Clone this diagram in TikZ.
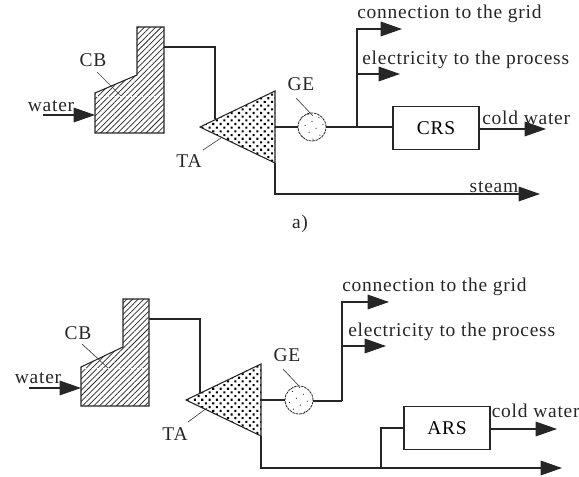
\documentclass[tikz,border=0pt]{standalone}
\usepackage{fontspec}
\setmainfont[LetterSpace=4]{Liberation Serif}
\usetikzlibrary{arrows.meta,patterns.meta}
\tikzset{
  pipe/.style={draw=black!85,line width=0.8pt},
  flow/.style={pipe,-{Triangle[length=16pt,width=11pt]}},
  leader/.style={draw=black!75,line width=0.5pt},
  hatched/.style={pipe,pattern={Lines[angle=45,distance=3pt,line width=0.55pt]},pattern color=black!85},
  dotted fill/.style={pipe,pattern={Dots[angle=45,distance=3.9pt,radius=1.1pt]}},
  unitbox/.style={draw=black!85,line width=0.8pt,minimum width=64.5pt,minimum height=32pt,inner sep=0pt,font=\fontsize{14.6}{15}\selectfont},
  genset/.style={draw=black!85,line width=0.6pt,dash pattern=on 2pt off 0.6pt,circle,minimum size=21pt,inner sep=0pt,pattern={Dots[angle=30,distance=6pt,radius=0.45pt]}},
  lab/.style={inner sep=0pt,text=black!85,font=\fontsize{14.6}{15}\selectfont},
  lablong/.style={lab,anchor=west}
}
\begin{document}
\begin{tikzpicture}[x=0.75pt,y=-0.75pt]
\useasboundingbox (0,0) rectangle (579,477);

% upper plant
\draw[hatched] (95,133) -- (95,93) -- (137,75) -- (137,27) -- (164,27) -- (164,133) -- cycle;
\draw[white,densely dotted,line width=0.7pt] (97,96) -- (162,96);
\draw[dotted fill] (200,127) -- (275,91) -- (275,163) -- cycle;
\coordinate (stackA) at (164,47);
\coordinate (bendA) at (215,47);
\coordinate (inletA) at (215,119);
\draw[pipe] (stackA) -- (bendA) -- (inletA);

\node[lab] (waterA) at (51,106) {water};
\coordinate (waterstartA) at (43,115);
\coordinate (watertipA) at (95,115);
\draw[flow] (waterstartA) -- (watertipA);

\node[lab] (cbA) at (93,60) {CB};
\coordinate (cbtipA) at (121,96);
\draw[leader] (97,72) -- (cbtipA);
\node[lab] (taA) at (189,161) {TA};
\coordinate (tatipA) at (221,138);
\draw[leader] (203,150) -- (tatipA);

\coordinate (shaftA) at (275,127);
\node[genset] (geA) at (312,127) {};
\node[lab] (gelabA) at (301,84) {GE};
\coordinate (getipA) at (313,116);
\draw[leader] (296,98) -- (getipA);
\node[unitbox] (crs) at (436,128) {CRS};
\draw[pipe] (shaftA) -- (geA);
\draw[pipe] (geA) -- (crs.west |- geA);

\coordinate (busA) at (357,127);
\coordinate (gridA) at (402,29);
\coordinate (procA) at (400,74);
\draw[flow] (busA) -- (357,29) -- (gridA);
\draw[flow] (357,74) -- (procA);
\node[lablong] (gridlabA) at (357,14) {connection to the grid};
\node[lablong] (proclabA) at (362,60) {electricity to the process};

\coordinate (coldA) at (546,129);
\draw[flow] (crs.east |- coldA) -- (coldA);
\node[lablong] (coldlabA) at (482,118) {cold water};

\coordinate (steamstart) at (275,163);
\coordinate (steamtip) at (540,194);
\draw[flow] (steamstart) -- (275,194) -- (steamtip);
\node[lab] (steamlab) at (494,187) {steam};
\node[lab] (caption) at (300,224) {a)};

% lower plant
\draw[hatched] (81,406) -- (81,367) -- (123,347) -- (123,299) -- (149,299) -- (149,406) -- cycle;
\draw[white,densely dotted,line width=0.7pt] (83,368) -- (147,368);
\draw[dotted fill] (186,400) -- (261,364) -- (261,436) -- cycle;
\coordinate (stackB) at (149,319);
\coordinate (bendB) at (200,319);
\coordinate (inletB) at (200,393);
\draw[pipe] (stackB) -- (bendB) -- (inletB);

\node[lab] (waterB) at (38,378) {water};
\coordinate (waterstartB) at (29,388);
\coordinate (watertipB) at (81,388);
\draw[flow] (waterstartB) -- (watertipB);

\node[lab] (cbB) at (78,333) {CB};
\coordinate (cbtipB) at (108,368);
\draw[leader] (82,344) -- (cbtipB);
\node[lab] (taB) at (175,434) {TA};
\coordinate (tatipB) at (207,408);
\draw[leader] (188,422) -- (tatipB);

\coordinate (shaftB) at (261,400);
\node[genset] (geB) at (299,400) {};
\node[lab] (gelabB) at (287,355) {GE};
\coordinate (getipB) at (299,386);
\draw[leader] (283,369) -- (getipB);
\draw[pipe] (shaftB) -- (geB);

\coordinate (busB) at (342,401);
\coordinate (gridB) at (389,302);
\coordinate (procB) at (386,346);
\draw[pipe] (geB.east |- busB) -- (busB);
\draw[flow] (busB) -- (342,302) -- (gridB);
\draw[flow] (342,346) -- (procB);
\node[lablong] (gridlabB) at (342,287) {connection to the grid};
\node[lablong] (proclabB) at (348,332) {electricity to the process};

\node[unitbox] (ars) at (447,428) {ARS};
\coordinate (coldB) at (557,429);
\draw[flow] (ars.east |- coldB) -- (coldB);
\node[lablong] (coldlabB) at (491.5,411) {cold water};

\coordinate (exhauststart) at (261,436);
\coordinate (exhausttip) at (562,468);
\draw[flow] (exhauststart) -- (261,468) -- (exhausttip);
\draw[pipe] (381,468) -- (381,428) -- (ars.west);
\end{tikzpicture}
\end{document}
